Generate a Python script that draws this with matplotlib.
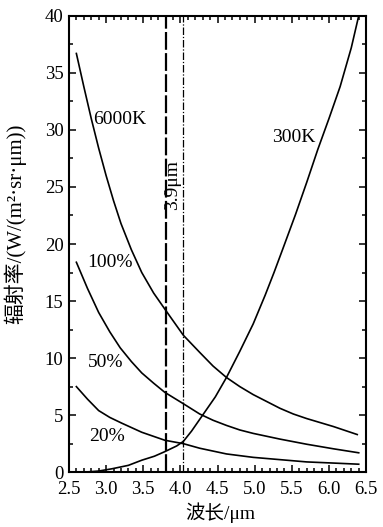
import matplotlib
matplotlib.use('Agg')
import matplotlib.pyplot as plt
import numpy as np
from matplotlib.ticker import MultipleLocator, FormatStrFormatter

plt.rcParams['font.family'] = ['Liberation Serif', 'Noto Sans CJK SC']

# Data
x_100 = [2.6, 2.7, 2.8, 2.9, 3.0, 3.1, 3.2, 3.34, 3.48, 3.64, 3.79, 4.04, 4.26, 4.44, 4.62, 4.8, 4.98,
         5.16, 5.34, 5.52, 5.7, 5.88, 6.06, 6.22, 6.38]
y_100 = [36.7, 33.8, 31.0, 28.4, 26.0, 23.8, 21.8, 19.5, 17.5, 15.7, 14.3, 12.0, 10.5, 9.3, 8.3, 7.5, 6.8,
         6.2, 5.6, 5.1, 4.7, 4.35, 4.0, 3.65, 3.3]
x_50 = [2.6, 2.75, 2.9, 3.05, 3.19, 3.34, 3.48, 3.64, 3.79, 4.04, 4.26, 4.44, 4.62, 4.8, 4.98, 5.34, 5.7,
        6.06, 6.4]
y_50 = [18.4, 16.1, 14.0, 12.3, 10.9, 9.7, 8.7, 7.8, 7.0, 6.0, 5.1, 4.55, 4.1, 3.7, 3.4, 2.9, 2.45,
        2.05, 1.7]
x_20 = [2.6, 2.75, 2.9, 3.05, 3.21, 3.48, 3.79, 4.04, 4.26, 4.62, 4.98, 5.34, 5.7, 6.06, 6.4]
y_20 = [7.5, 6.4, 5.4, 4.8, 4.3, 3.5, 2.8, 2.5, 2.1, 1.6, 1.3, 1.1, 0.9, 0.8, 0.7]
x_300 = [2.7, 2.9, 3.08, 3.3, 3.48, 3.65, 3.79, 3.95, 4.04, 4.15, 4.31, 4.47, 4.62, 4.8, 4.98, 5.14,
         5.26, 5.38, 5.55, 5.7, 5.85, 6.0, 6.15, 6.3, 6.4]
y_300 = [0.0, 0.1, 0.3, 0.6, 1.05, 1.4, 1.8, 2.3, 2.7, 3.6, 5.1, 6.6, 8.3, 10.6, 13.0, 15.5,
         17.5, 19.6, 22.6, 25.4, 28.3, 31.0, 33.8, 37.2, 40.0]
vline_a = 3.8
vline_b = 4.03

fig = plt.figure(figsize=(3.83, 5.27), dpi=100)
ax = fig.add_axes([0.180, 0.104, 0.776, 0.866])

ax.plot(x_100, y_100, color='black', lw=1.2)
ax.plot(x_50, y_50, color='black', lw=1.2)
ax.plot(x_20, y_20, color='black', lw=1.2)
ax.plot(x_300, y_300, color='black', lw=1.2)
ax.axvline(vline_a, color='black', lw=1.6, ls=(0, (8, 1.5)))
ax.axvline(vline_b, color='black', lw=0.9, ls=(0, (6, 1.5, 1, 1.5)))

ax.text(3.9, 25.2, '3.9μm', rotation=90, ha='center', va='center', fontsize=14)
ax.text(2.83, 30.9, '6000K', ha='left', va='center', fontsize=14)
ax.text(5.23, 29.3, '300K', ha='left', va='center', fontsize=14)
ax.text(2.75, 18.4, '100%', ha='left', va='center', fontsize=14)
ax.text(2.75, 9.6, '50%', ha='left', va='center', fontsize=14)
ax.text(2.77, 3.1, '20%', ha='left', va='center', fontsize=14)

ax.set_xlim(2.5, 6.5)
ax.set_ylim(0, 40)
ax.xaxis.set_major_locator(MultipleLocator(0.5))
ax.xaxis.set_minor_locator(MultipleLocator(0.1))
ax.xaxis.set_major_formatter(FormatStrFormatter('%.1f'))
ax.yaxis.set_major_locator(MultipleLocator(5))
ax.yaxis.set_minor_locator(MultipleLocator(2.5))
ax.tick_params(which='both', direction='in', top=True, right=True, labelsize=13.5, width=1.1)
ax.tick_params(which='major', length=5)
ax.tick_params(axis='x', pad=6)
ax.tick_params(axis='y', pad=4)
ax.tick_params(which='minor', length=3)
for s in ax.spines.values():
    s.set_linewidth(1.5)

ax.set_xlabel('波长/μm', fontsize=14)
ax.set_ylabel('辐射率/(W/(m²·sr·μm))', fontsize=15)
ax.xaxis.set_label_coords(0.508, -0.066)
ax.yaxis.set_label_coords(-0.145, 0.544)

fig.savefig('out.png', dpi=100)
